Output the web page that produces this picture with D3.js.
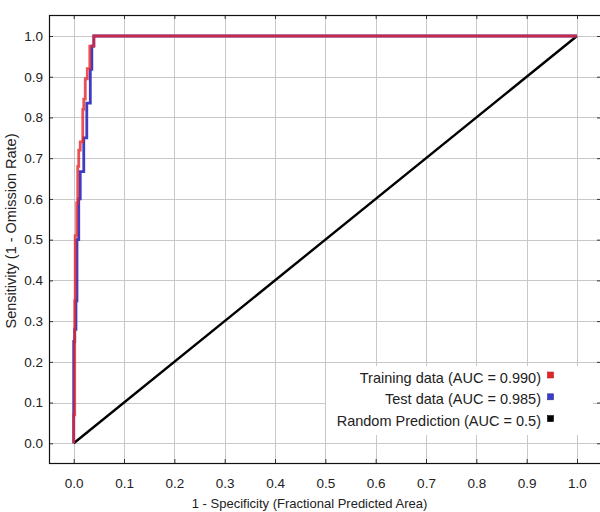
<!DOCTYPE html>
<html>
<head>
<meta charset="utf-8">
<script src="https://cdn.jsdelivr.net/npm/d3@7"></script>
<style>
  body { margin: 0; background: #fff; }
  text { font-family: "Liberation Sans", Arial, sans-serif; fill: #222; }
</style>
</head>
<body>
<div id="chart"></div>
<script>
// ROC points (top corner of every vertical step)
const train_fpr = [0, 0, 0.002, 0.003, 0.006, 0.008, 0.010, 0.013, 0.018, 0.020, 0.023, 0.027, 0.032, 0.040, 1.0];
const train_tpr = [0, 0.07, 0.35, 0.51, 0.59, 0.68, 0.72, 0.74, 0.82, 0.845, 0.895, 0.92, 0.975, 1.0, 1.0];
const test_fpr = [0, 0, 0.002, 0.0045, 0.0065, 0.010, 0.013, 0.020, 0.026, 0.033, 0.036, 0.040, 1.0];
const test_tpr = [0, 0.25, 0.28, 0.35, 0.50, 0.60, 0.667, 0.75, 0.835, 0.918, 0.975, 1.0, 1.0];
const random_fpr = [0, 1];
const random_tpr = [0, 1];

const ticks = [0, 0.1, 0.2, 0.3, 0.4, 0.5, 0.6, 0.7, 0.8, 0.9, 1.0];
const legend_labels = ['Training data (AUC = 0.990)', 'Test data (AUC = 0.985)', 'Random Prediction (AUC = 0.5)'];
const legend_colors = ['#e3262c', '#3c3cc4', '#000000'];

// Canvas variables
const WIDTH = 600;
const HEIGHT = 512;
const FRAME = { left: 49, top: 15, right: 601, bottom: 463 };

const svg = d3.select('#chart').append('svg')
  .attr('width', WIDTH)
  .attr('height', HEIGHT);

svg.append('rect')
  .attr('width', WIDTH).attr('height', HEIGHT)
  .attr('fill', '#fff');

const x = d3.scaleLinear().domain([0, 1]).range([73.7, 577]);
const y = d3.scaleLinear().domain([0, 1]).range([443.3, 36]);

// grid
const grid = svg.append('g').attr('stroke', '#c8c8c8').attr('stroke-width', 1);
ticks.forEach(t => {
  grid.append('line')
    .attr('x1', Math.round(x(t)) + 0.5).attr('x2', Math.round(x(t)) + 0.5)
    .attr('y1', FRAME.top).attr('y2', FRAME.bottom);
  grid.append('line')
    .attr('y1', Math.round(y(t)) + 0.5).attr('y2', Math.round(y(t)) + 0.5)
    .attr('x1', FRAME.left).attr('x2', FRAME.right);
});

// axes with inward ticks
function style_axis (g) {
  g.select('.domain').remove();
  g.selectAll('.tick line').attr('stroke', '#333');
  g.selectAll('.tick text')
    .style('font-family', '"Liberation Sans", Arial, sans-serif')
    .style('font-size', '13.5px')
    .attr('fill', '#222');
}

svg.append('g')
  .attr('transform', 'translate(0,' + FRAME.bottom + ')')
  .call(d3.axisBottom(x).tickValues(ticks).tickFormat(d3.format('.1f')).tickSize(-4).tickPadding(15.5))
  .call(style_axis);

svg.append('g')
  .attr('transform', 'translate(0,' + FRAME.top + ')')
  .call(d3.axisTop(x).tickValues(ticks).tickFormat('').tickSize(-4))
  .call(style_axis);

svg.append('g')
  .attr('transform', 'translate(' + FRAME.left + ',0)')
  .call(d3.axisLeft(y).tickValues(ticks).tickFormat(d3.format('.1f')).tickSize(-4).tickPadding(6))
  .call(style_axis);

svg.append('g')
  .attr('transform', 'translate(' + FRAME.right + ',0)')
  .call(d3.axisRight(y).tickValues(ticks).tickFormat('').tickSize(-4))
  .call(style_axis);

// frame
svg.append('rect')
  .attr('x', FRAME.left + 0.5).attr('y', FRAME.top + 0.5)
  .attr('width', FRAME.right - FRAME.left).attr('height', FRAME.bottom - FRAME.top)
  .attr('fill', 'none').attr('stroke', '#111').attr('stroke-width', 1.2);

// curves
const zip = (a, b) => a.map((v, i) => [v, b[i]]);
const step_line = d3.line().x(d => x(d[0])).y(d => y(d[1])).curve(d3.curveStepAfter);
const straight_line = d3.line().x(d => x(d[0])).y(d => y(d[1]));

svg.append('path')
  .datum(zip(random_fpr, random_tpr))
  .attr('d', straight_line)
  .attr('fill', 'none').attr('stroke', legend_colors[2]).attr('stroke-width', 2.4);

svg.append('path')
  .datum(zip(test_fpr, test_tpr))
  .attr('d', step_line)
  .attr('fill', 'none').attr('stroke', legend_colors[1]).attr('stroke-width', 2.8);

svg.append('path')
  .datum(zip(train_fpr, train_tpr))
  .attr('d', step_line)
  .attr('fill', 'none').attr('stroke', legend_colors[0]).attr('stroke-width', 2.8)
  .attr('stroke-opacity', 0.8);

// legend
svg.append('rect')
  .attr('x', 326).attr('y', 366).attr('width', 267).attr('height', 69)
  .attr('fill', '#fff');

legend_labels.forEach((l, i) => {
  let by = 382.5 + i * 21.8;
  svg.append('text')
    .attr('x', 541).attr('y', by)
    .attr('text-anchor', 'end')
    .style('font-size', '14.5px')
    .text(l);
  svg.append('rect')
    .attr('x', 547.5).attr('y', by - 10.5).attr('width', 6).attr('height', 6)
    .attr('fill', legend_colors[i]).attr('stroke', d3.color(legend_colors[i]).darker(0.6)).attr('stroke-width', 0.6);
});

// axis titles
svg.append('text')
  .attr('x', 309.5).attr('y', 507.5)
  .attr('text-anchor', 'middle')
  .style('font-size', '13px')
  .text('1 - Specificity  (Fractional Predicted Area)');

svg.append('text')
  .attr('transform', 'translate(15.5,231)rotate(-90)')
  .attr('text-anchor', 'middle')
  .style('font-size', '14.5px')
  .text('Sensitivity (1 - Omission Rate)');
</script>
</body>
</html>
